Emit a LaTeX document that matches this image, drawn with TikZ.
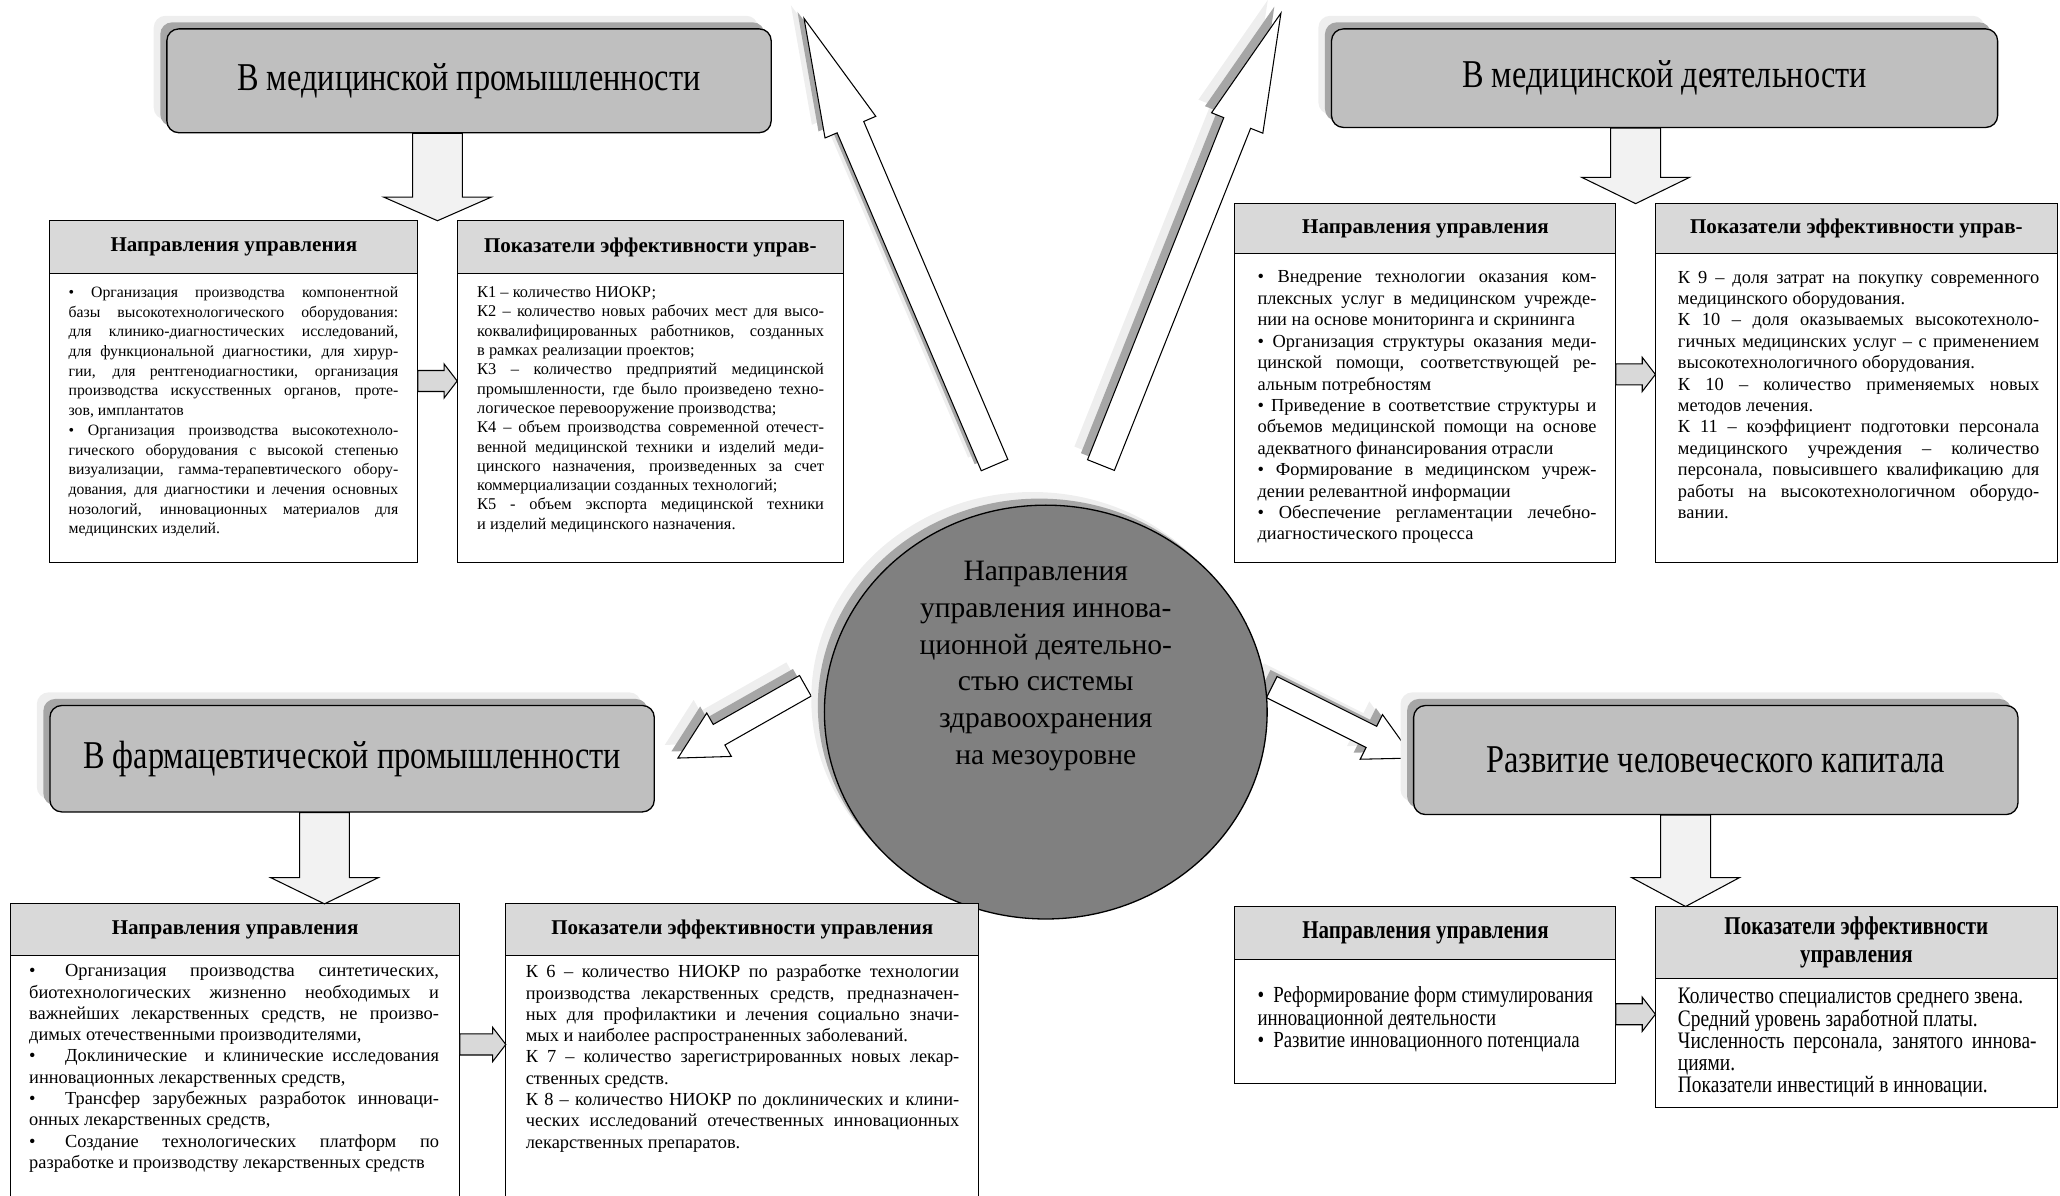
\documentclass[tikz,border=0pt]{standalone}
\usepackage{fontspec}
\setmainfont{Liberation Serif}
\newfontfamily\narrowserif[FakeStretch=0.82]{Liberation Serif}
\usetikzlibrary{positioning,calc,shapes.geometric,shadows}
\definecolor{titlefill}{HTML}{BFBFBF}
\definecolor{headfill}{HTML}{D9D9D9}
\definecolor{hubfill}{HTML}{808080}
\definecolor{dropfill}{HTML}{F2F2F2}
\definecolor{shadowdark}{HTML}{A6A6A6}
\definecolor{shadowlight}{HTML}{EEEEEE}
\tikzset{
    titlebox/.style={rectangle,rounded corners=9pt,draw=black,line width=1pt,fill=titlefill,
        font=\narrowserif\fontsize{30}{34}\selectfont,
        general shadow={fill=shadowlight,shadow xshift=-10pt,shadow yshift=10pt},
        general shadow={fill=shadowdark,shadow xshift=-5pt,shadow yshift=5pt}},
    headbox/.style={rectangle,draw=black,line width=0.8pt,fill=headfill,inner sep=0pt,outer sep=0pt,
        align=center,font=\bfseries\fontsize{16}{19}\selectfont},
    bodybox/.style={rectangle,draw=black,line width=0.8pt,fill=white,inner sep=0pt,outer sep=0pt},
    bodytext/.style={anchor=north west,inner sep=0pt,align=justify,
        execute at begin node={\hyphenpenalty=10000\exhyphenpenalty=10000}},
    hub/.style={ellipse,draw=black,line width=1pt,fill=hubfill,minimum width=337pt,minimum height=315pt,
        general shadow={fill=shadowlight,shadow xshift=-10pt,shadow yshift=10pt},
        general shadow={fill=shadowdark,shadow xshift=-5pt,shadow yshift=5pt}},
    hubtext/.style={align=center,inner sep=0pt,font=\fontsize{22.5}{28}\selectfont},
    bigarrow/.style={draw=black,line width=0.8pt,fill=white},
    droparrow/.style={draw=black,line width=0.8pt,fill=dropfill},
    sidearrow/.style={draw=black,line width=0.8pt,fill=headfill},
}
% block arrow: [style]{tail}{tip}{shaft half width}{head half width}{head length}
\newcommand{\blockarrow}[6][]{%
  \coordinate (baHead) at ($(#3)!#6!(#2)$);
  \path[#1] ($(#2)!#4!90:(#3)$) -- ($(baHead)!#4!-90:(#2)$) -- ($(baHead)!#5!-90:(#2)$)
    -- (#3) -- ($(baHead)!#5!90:(#2)$) -- ($(baHead)!#4!90:(#2)$)
    -- ($(#2)!#4!-90:(#3)$) -- cycle;
}
\newcommand{\shadowarrow}[5]{%
  \begin{scope}[transform canvas={shift={(-10,-10)}}]\blockarrow[fill=shadowlight]{#1}{#2}{#3}{#4}{#5}\end{scope}
  \begin{scope}[transform canvas={shift={(-5,-5)}}]\blockarrow[fill=shadowdark]{#1}{#2}{#3}{#4}{#5}\end{scope}
  \blockarrow[bigarrow]{#1}{#2}{#3}{#4}{#5}
}

\begin{document}
\begin{tikzpicture}[x=1pt,y=-1pt]
\useasboundingbox (0,0) rectangle (1568,910);

% arrows out of the hub
\coordinate (nwTail) at (757,354);
\coordinate (nwTip) at (612,14);
\coordinate (neTail) at (838,354);
\coordinate (neTip) at (975,10);
\coordinate (swTail) at (613,522);
\coordinate (swTip) at (516,577);
\coordinate (seTail) at (968,523);
\coordinate (seTip) at (1076,577);
\shadowarrow{nwTail}{nwTip}{11pt}{21pt}{90pt}
\shadowarrow{neTail}{neTip}{11pt}{21pt}{90pt}
\shadowarrow{swTail}{swTip}{9pt}{19pt}{36pt}
\shadowarrow{seTail}{seTip}{9pt}{19pt}{36pt}

% hub
\node[hub] (hub) at (796,542) {};
\node[hubtext] (hubText) at ($(hub.center)+(0,-35)$) {Направления\\управления иннова-\\ционной деятельно-\\стью системы\\здравоохранения\\на мезоуровне};

% titles
\node[titlebox,minimum width=460pt,minimum height=79pt] (tlTitle) at (357,61.5) {В медицинской промышленности};
\node[titlebox,minimum width=507pt,minimum height=75pt] (trTitle) at (1267,59.5) {В медицинской деятельности};
\node[titlebox,minimum width=460pt,minimum height=81pt] (blTitle) at (268,577.5) {В фармацевтической промышленности};
\node[titlebox,minimum width=460pt,minimum height=83pt] (brTitle) at (1306,578.5) {Развитие человеческого капитала};

% top left
\node[headbox,minimum width=280pt,minimum height=40pt,anchor=north west] (tlDirHead) at (38,168) {Направления управления};
\node[headbox,minimum width=294pt,minimum height=40pt,right=30pt of tlDirHead] (tlIndHead) {Показатели эффективности управ-};
\node[bodybox,minimum width=280pt,minimum height=220pt,below=0pt of tlDirHead] (tlDirBody) {};
\node[bodybox,minimum width=294pt,minimum height=220pt,below=0pt of tlIndHead] (tlIndBody) {};
\node[bodytext,text width=251pt,font=\fontsize{12}{15}\selectfont] (tlDirText) at ($(tlDirBody.north west)+(14,10)$) {%
• Организация производства компонентной\linebreak
базы высокотехнологического оборудования:\linebreak
для клинико-диагностических исследований,\linebreak
для функциональной диагностики, для хирур-\linebreak
гии, для рентгенодиагностики, организация\linebreak
производства искусственных органов, проте-\linebreak
зов, имплантатов\par
• Организация производства высокотехноло-\linebreak
гического оборудования с высокой степенью\linebreak
визуализации, гамма-терапевтического обору-\linebreak
дования, для диагностики и лечения основных\linebreak
нозологий, инновационных материалов для\linebreak
медицинских изделий.};
\node[bodytext,text width=264pt,font=\fontsize{12.5}{14.7}\selectfont] (tlIndText) at ($(tlIndBody.north west)+(15,10)$) {%
К1 – количество НИОКР;\par
К2 – количество новых рабочих мест для высо-\linebreak
коквалифицированных работников, созданных\linebreak
в рамках реализации проектов;\par
К3 – количество предприятий медицинской\linebreak
промышленности, где было произведено техно-\linebreak
логическое перевооружение производства;\par
К4 – объем производства современной отечест-\linebreak
венной медицинской техники и изделий меди-\linebreak
цинского назначения, произведенных за счет\linebreak
коммерциализации созданных технологий;\par
К5 - объем экспорта медицинской техники\linebreak
и изделий медицинского назначения.};
\coordinate (tlDrop) at ($(tlDirHead.north east)!0.5!(tlIndHead.north west)$);
\coordinate (tlDropTop) at (tlDrop |- tlTitle.south);
\blockarrow[droparrow]{tlDropTop}{tlDrop}{19pt}{41pt}{18pt}
\coordinate (tlSideA) at ($(tlDirBody.north east)+(0,82)$);
\coordinate (tlSideB) at (tlSideA -| tlIndBody.west);
\blockarrow[sidearrow]{tlSideA}{tlSideB}{8pt}{13pt}{10pt}

% top right
\node[headbox,minimum width=290pt,minimum height=38pt,anchor=north west] (trDirHead) at (940,155) {Направления управления};
\node[headbox,minimum width=306pt,minimum height=38pt,right=30pt of trDirHead] (trIndHead) {Показатели эффективности управ-};
\node[bodybox,minimum width=290pt,minimum height=235pt,below=0pt of trDirHead] (trDirBody) {};
\node[bodybox,minimum width=306pt,minimum height=235pt,below=0pt of trIndHead] (trIndBody) {};
\node[bodytext,text width=258pt,font=\fontsize{14}{16.3}\selectfont] (trDirText) at ($(trDirBody.north west)+(17,13)$) {%
• Внедрение технологии оказания ком-\linebreak
плексных услуг в медицинском учрежде-\linebreak
нии на основе мониторинга и скрининга\par
• Организация структуры оказания меди-\linebreak
цинской помощи, соответствующей ре-\linebreak
альным потребностям\par
• Приведение в соответствие структуры и\linebreak
объемов медицинской помощи на основе\linebreak
адекватного финансирования отрасли\par
• Формирование в медицинском учреж-\linebreak
дении релевантной информации\par
• Обеспечение регламентации лечебно-\linebreak
диагностического процесса};
\node[bodytext,text width=275pt,font=\fontsize{14}{16.3}\selectfont] (trIndText) at ($(trIndBody.north west)+(17,13)$) {%
К 9 – доля затрат на покупку современного\linebreak
медицинского оборудования.\par
К 10 – доля оказываемых высокотехноло-\linebreak
гичных медицинских услуг – с применением\linebreak
высокотехнологичного оборудования.\par
К 10 – количество применяемых новых\linebreak
методов лечения.\par
К 11 – коэффициент подготовки персонала\linebreak
медицинского учреждения – количество\linebreak
персонала, повысившего квалификацию для\linebreak
работы на высокотехнологичном оборудо-\linebreak
вании.};
\coordinate (trDrop) at ($(trDirHead.north east)!0.5!(trIndHead.north west)$);
\coordinate (trDropTop) at (trDrop |- trTitle.south);
\blockarrow[droparrow]{trDropTop}{trDrop}{19pt}{41pt}{20pt}
\coordinate (trSideA) at ($(trDirBody.north east)+(0,92)$);
\coordinate (trSideB) at (trSideA -| trIndBody.west);
\blockarrow[sidearrow]{trSideA}{trSideB}{8pt}{13pt}{10pt}

% bottom left
\node[headbox,minimum width=342pt,minimum height=39pt,anchor=north west] (blDirHead) at (8,688) {Направления управления};
\node[headbox,minimum width=360pt,minimum height=39pt,right=35pt of blDirHead] (blIndHead) {Показатели эффективности управления};
\node[bodybox,minimum width=342pt,minimum height=200pt,below=0pt of blDirHead] (blDirBody) {};
\node[bodybox,minimum width=360pt,minimum height=200pt,below=0pt of blIndHead] (blIndBody) {};
\node[bodytext,text width=312pt,font=\fontsize{14}{16.2}\selectfont] (blDirText) at ($(blDirBody.north west)+(14,7)$) {%
•\hspace{1.6em}Организация производства синтетических,\linebreak
биотехнологических жизненно необходимых и\linebreak
важнейших лекарственных средств, не произво-\linebreak
димых отечественными производителями,\par
•\hspace{1.6em}Доклинические\ \ и клинические исследования\linebreak
инновационных лекарственных средств,\par
•\hspace{1.6em}Трансфер зарубежных разработок инноваци-\linebreak
онных лекарственных средств,\par
•\hspace{1.6em}Создание технологических платформ по\linebreak
разработке и производству лекарственных средств};
\node[bodytext,text width=330pt,font=\fontsize{14}{16.2}\selectfont] (blIndText) at ($(blIndBody.north west)+(15,7)$) {%
К 6 – количество НИОКР по разработке технологии\linebreak
производства лекарственных средств, предназначен-\linebreak
ных для профилактики и лечения социально значи-\linebreak
мых и наиболее распространенных заболеваний.\par
К 7 – количество зарегистрированных новых лекар-\linebreak
ственных средств.\par
К 8 – количество НИОКР по доклинических и клини-\linebreak
ческих исследований отечественных инновационных\linebreak
лекарственных препаратов.};
\coordinate (blDrop) at ($(blDirHead.north west)+(239,0)$);
\coordinate (blDropTop) at (blDrop |- blTitle.south);
\blockarrow[droparrow]{blDropTop}{blDrop}{19pt}{41pt}{20pt}
\coordinate (blSideA) at ($(blDirBody.north east)+(0,68)$);
\coordinate (blSideB) at (blSideA -| blIndBody.west);
\blockarrow[sidearrow]{blSideA}{blSideB}{8pt}{13pt}{10pt}

% bottom right
\node[headbox,minimum width=290pt,minimum height=40pt,anchor=north west,
      font=\narrowserif\bfseries\fontsize{19.5}{21}\selectfont] (brDirHead) at (940,690) {Направления управления};
\node[headbox,minimum width=306pt,minimum height=55pt,below right=0pt and 30pt of brDirHead.north east,
      font=\narrowserif\bfseries\fontsize{19.5}{21}\selectfont] (brIndHead) {Показатели эффективности\\управления};
\node[bodybox,minimum width=290pt,minimum height=95pt,below=0pt of brDirHead] (brDirBody) {};
\node[bodybox,minimum width=306pt,minimum height=98pt,below=0pt of brIndHead] (brIndBody) {};
\node[bodytext,align=flush left,text width=268pt,font=\narrowserif\fontsize{17.5}{17}\selectfont] (brDirText) at ($(brDirBody.north west)+(17,21)$) {%
•\hspace{0.4em}Реформирование форм стимулирования\\
инновационной деятельности\\
•\hspace{0.4em}Развитие инновационного потенциала};
\node[bodytext,text width=273pt,font=\narrowserif\fontsize{18}{16.5}\selectfont] (brIndText) at ($(brIndBody.north west)+(17,7)$) {%
Количество специалистов среднего звена.\par
Средний уровень заработной платы.\par
Численность персонала, занятого иннова-\linebreak
циями.\par
Показатели инвестиций в инновации.};
\coordinate (brDrop) at ($(brIndHead.north west)+(23,0)$);
\coordinate (brDropTop) at (brDrop |- brTitle.south);
\blockarrow[droparrow]{brDropTop}{brDrop}{19pt}{41pt}{22pt}
\coordinate (brSideA) at ($(brDirBody.north east)+(0,42)$);
\coordinate (brSideB) at (brSideA -| brIndBody.west);
\blockarrow[sidearrow]{brSideA}{brSideB}{8pt}{13pt}{10pt}
\end{tikzpicture}
\end{document}
